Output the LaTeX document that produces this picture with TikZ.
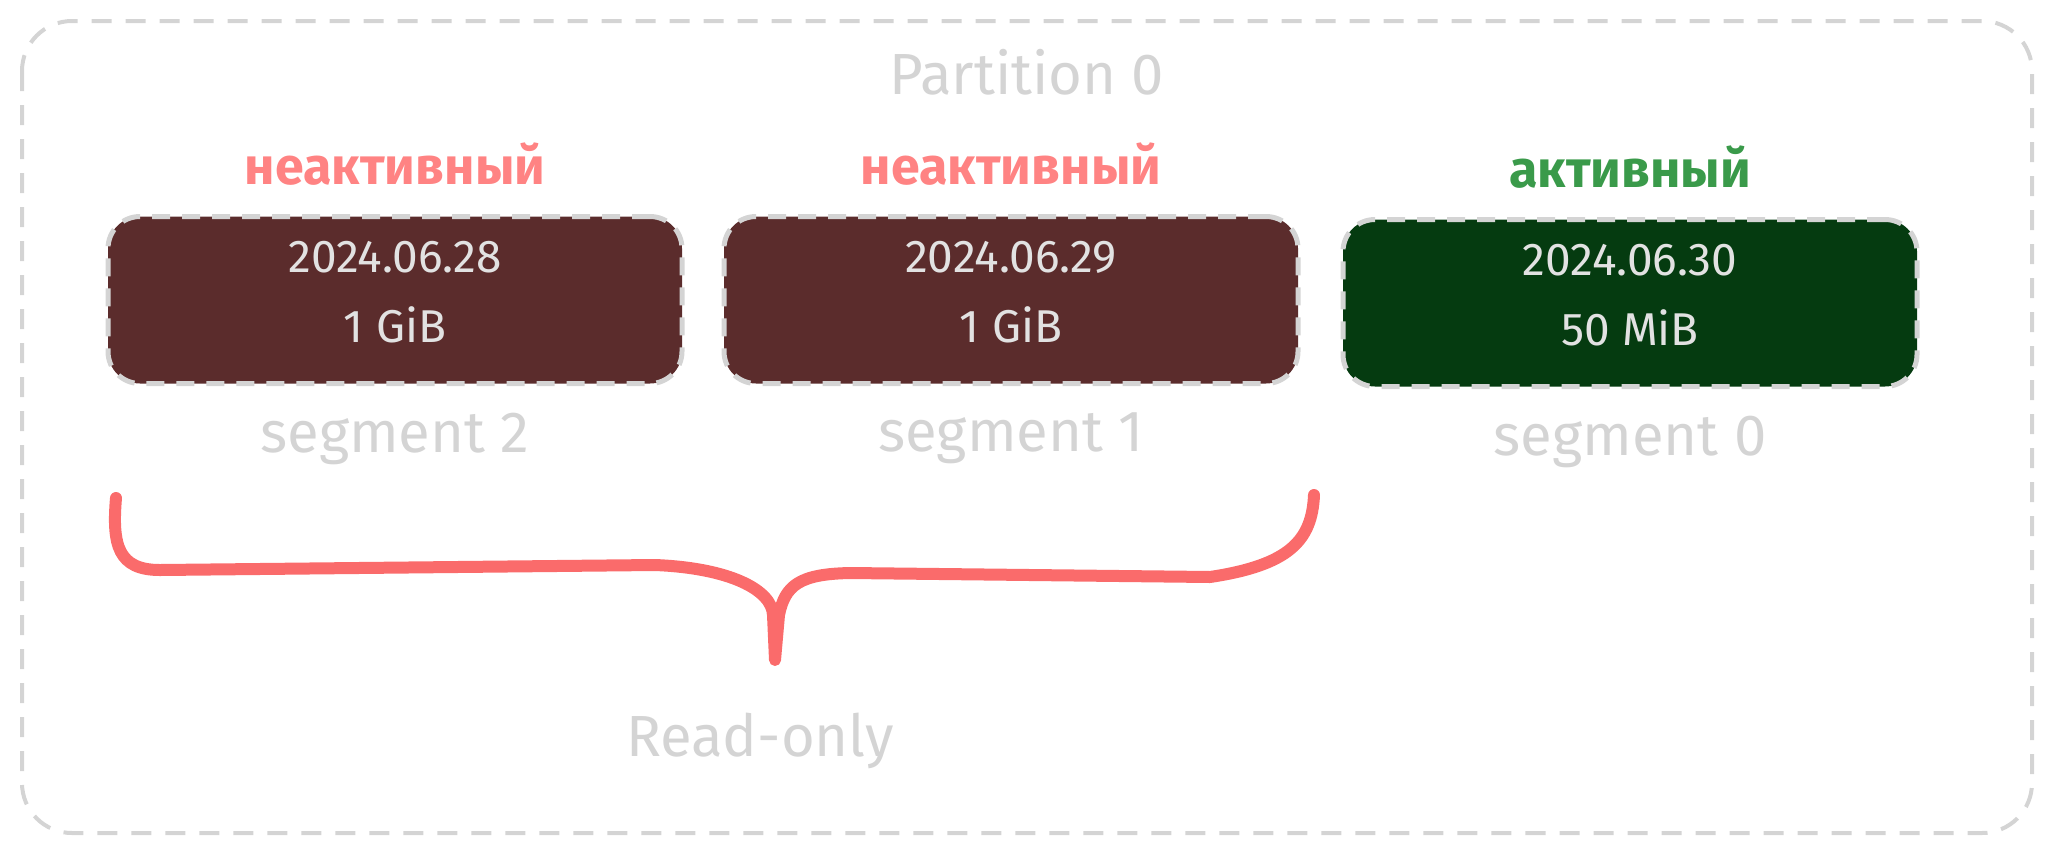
\documentclass[tikz,border=0pt]{standalone}
\usepackage{fontspec}
\setmainfont{Fira Sans}
\usetikzlibrary{positioning}

\definecolor{framegray}{HTML}{D4D4D4}
\definecolor{oldfill}{HTML}{5B2C2C}
\definecolor{newfill}{HTML}{053B10}
\definecolor{oldtext}{HTML}{FF8383}
\definecolor{newtext}{HTML}{3A9A4A}
\definecolor{boxtext}{HTML}{E2E2E2}
\definecolor{bracered}{HTML}{FA6B6B}

\begin{document}
\begin{tikzpicture}[x=0.5pt,y=-0.5pt,
	segbox/.style={draw=framegray,line width=2.5pt,dash pattern=on 9pt off 6pt,
		rounded corners=16pt,minimum width=287pt,minimum height=83.5pt,
		text=boxtext,align=center,font=\fontsize{23}{35}\selectfont,
		execute at end node={\rule[-8pt]{0pt}{8pt}}},
	oldseg/.style={segbox,fill=oldfill},
	newseg/.style={segbox,fill=newfill},
	statelabel/.style={font=\fontsize{26}{30}\selectfont\bfseries},
	greytext/.style={text=framegray,font=\fontsize{29}{34}\selectfont},
	brace/.style={draw=bracered,line width=6pt,line cap=round,line join=round}]

	\useasboundingbox (0,0) rectangle (2056,852);

	% partition frame
	\draw[framegray,line width=2pt,dash pattern=on 10pt off 7pt,rounded corners=25pt]
		(22,21) rectangle (2032,833);
	\node[greytext] (part) at (1027,72) {Partition 0};

	% segments
	\node[oldseg] (seg2) at (395,300) {2024.06.28\\1 GiB};
	\node[oldseg] (seg1) at (1011,300) {2024.06.29\\1 GiB};
	\node[newseg] (seg0) at (1630,303) {2024.06.30\\50 MiB};

	\node[statelabel,text=oldtext,above=11pt of seg2] (state2) {неактивный};
	\node[statelabel,text=oldtext,above=11pt of seg1] (state1) {неактивный};
	\node[statelabel,text=newtext,above=11pt of seg0] (state0) {активный};

	\node[greytext,below=10pt of seg2] (name2) {segment 2};
	\node[greytext,below=10pt of seg1] (name1) {segment 1};
	\node[greytext,below=10pt of seg0] (name0) {segment 0};

	% read-only brace
	\draw[brace] (116,498) .. controls (112,545) and (118,570) .. (160,570)
		-- (655,565) .. controls (730,568) and (772,590) .. (773,615)
		-- (775,660) -- (779,615) .. controls (785,585) and (800,574) .. (850,573)
		-- (1210,577) .. controls (1290,565) and (1312,540) .. (1314,495);
	\node[greytext] (ro) at (760,741) {Read-only};
\end{tikzpicture}
\end{document}
